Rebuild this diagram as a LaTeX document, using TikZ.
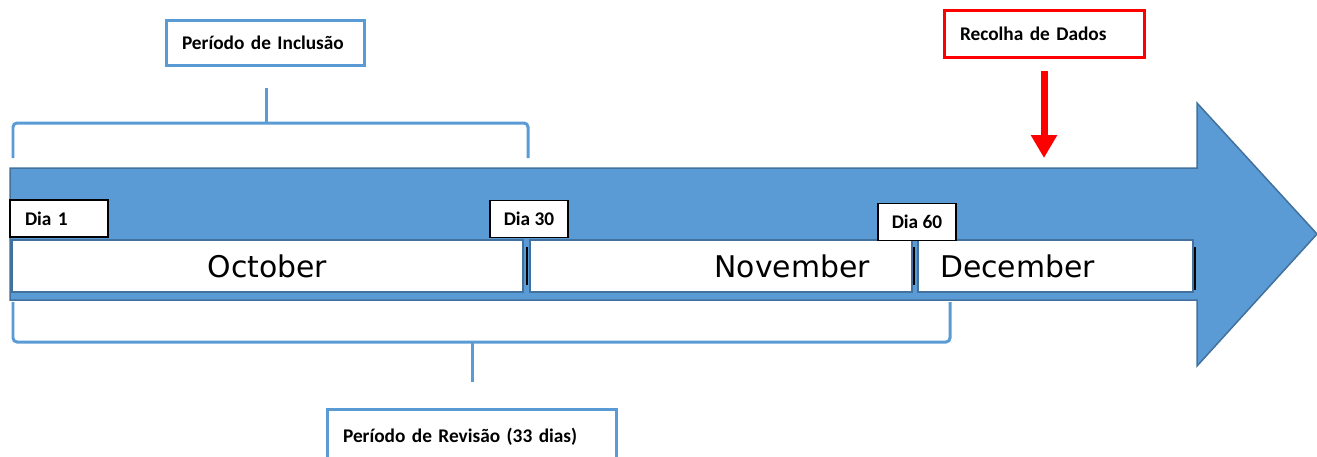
\documentclass[tikz,border=0pt]{standalone}
\usepackage{fontspec}
\setmainfont{Carlito}
\newfontfamily\monthfont{DejaVu Sans}
\usetikzlibrary{arrows.meta}
\definecolor{arrowblue}{HTML}{5B9BD5}
\definecolor{edgeblue}{HTML}{41719C}
\definecolor{dadosred}{HTML}{FF0000}
\tikzset{
	periodbox/.style={draw=arrowblue, line width=0.06cm, fill=white, minimum height=#1, inner xsep=0.32cm, align=left, font=\bfseries\fontsize{11}{13}\selectfont},
	diabox/.style={draw=black, line width=0.03cm, fill=white, minimum width=#1, minimum height=0.74cm, inner xsep=0.1cm, font=\bfseries\fontsize{11}{13}\selectfont},
	monthbox/.style={draw=edgeblue, line width=0.04cm, fill=white, minimum height=1.04cm, font=\monthfont\fontsize{17}{20}\selectfont},
	brace/.style={draw=arrowblue, line width=0.06cm, rounded corners=0.08cm}
}
\begin{document}
\begin{tikzpicture}[x=0.02cm, y=-0.02cm]
		%%%%% START %%%%%
		\useasboundingbox (0, 0) rectangle (1317, 456);
		
		% big timeline arrow
		\draw[fill=arrowblue, draw=edgeblue, line width=0.03cm] (10, 168) -- (1197, 168) -- (1197, 103) -- (1317, 234) -- (1197, 366) -- (1197, 300) -- (10, 300) -- cycle;
		
		% months
		\node[monthbox, minimum width=10.22cm, text width=9.8cm, align=center] (oct) at (267.5, 266) {October};
		\node[monthbox, minimum width=7.64cm, text width=7.64cm-1.68cm, inner xsep=0.84cm, align=right] (nov) at (721, 266) {November};
		\node[monthbox, minimum width=5.5cm, text width=5.5cm-0.88cm, inner xsep=0.44cm, align=left] (dec) at (1055.5, 266) {December};
		\draw[black, line width=0.025cm] (527, 247) -- (527, 285);
		\draw[black, line width=0.025cm] (914, 247) -- (914, 285);
		\draw[black, line width=0.025cm] (1195, 247) -- (1195, 290);
		
		% day markers
		\node[diabox=1.96cm, inner xsep=0.3cm, text width=1.96cm-0.6cm, align=left] (dia1) at (59, 218.5) {Dia 1};
		\node[diabox=1.56cm] (dia30) at (529, 219) {Dia 30};
		\node[diabox=1.56cm] (dia60) at (917, 222) {Dia 60};
		
		% periods
		\node[periodbox=0.92cm, minimum width=3.98cm, text width=3.98cm-0.64cm] (inclusao) at (265.5, 43) {Período de Inclusão};
		\draw[brace] (13, 158) -- (13, 123) -- (528, 123) -- (528, 158);
		\draw[brace] (266, 123) -- (266, 88);
		
		\node[periodbox=1.1cm, minimum width=5.8cm, text width=5.8cm-0.64cm] (revisao) at (472, 437) {Período de Revisão (33 dias)};
		\draw[brace] (13, 302) -- (13, 342) -- (950, 342) -- (950, 302);
		\draw[brace] (472, 342) -- (472, 382);
		
		% data collection
		\node[periodbox=0.96cm, draw=dadosred, minimum width=4cm, text width=4cm-0.64cm] (dados) at (1044, 34) {Recolha de Dados};
		\coordinate (dadostop) at (1044, 71);
		\coordinate (dadostip) at (1044, 158);
		\draw[dadosred, line width=0.14cm, -{Triangle[width=0.5cm, length=0.46cm]}] (dadostop) -- (dadostip);
		%%%%% END %%%%%
	\end{tikzpicture}
\end{document}
